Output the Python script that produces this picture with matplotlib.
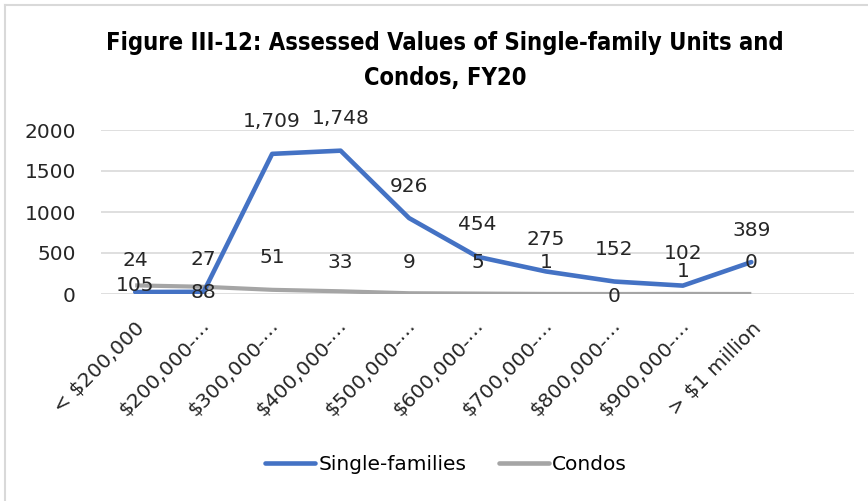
import matplotlib.pyplot as plt
from matplotlib.lines import Line2D

categories = ['< $200,000', '$200,000-⋯', '$300,000-⋯', '$400,000-⋯', '$500,000-⋯',
              '$600,000-⋯', '$700,000-⋯', '$800,000-⋯', '$900,000-⋯', '> $1 million']
single = [24, 27, 1709, 1748, 926, 454, 275, 152, 102, 389]
condos = [105, 88, 51, 33, 9, 5, 1, 0, 1, 0]

# label offsets in pixels (Excel put the condo labels in odd spots)
single_off = [32] * 10
condo_off = [0, -6, 32, 29, 31, 31, 31, -2, 22, 31]

num_font = ['DejaVu Sans']
fs = 14.5

fig = plt.figure(figsize=(8.68, 5.01), dpi=100)
ax = fig.add_axes([101 / 868, 1 - 294 / 501, 753 / 868, 164 / 501])

x = list(range(len(categories)))
ax.plot(x, condos, color='#A5A5A5', lw=3.0, solid_capstyle='butt', zorder=3)
ax.plot(x, single, color='#4472C4', lw=3.3, solid_capstyle='round',
        solid_joinstyle='round', zorder=4)

for i in x:
    ax.annotate(f'{single[i]:,}', (i, single[i]), xytext=(0, single_off[i]),
                textcoords='offset pixels', ha='center', va='center',
                fontsize=fs, family=num_font, color='#262626', zorder=5)
    ax.annotate(f'{condos[i]:,}', (i, condos[i]), xytext=(0, condo_off[i]),
                textcoords='offset pixels', ha='center', va='center',
                fontsize=fs, family=num_font, color='#262626', zorder=5)

ax.set_xlim(-0.5, 10.5)
ax.set_ylim(0, 2000)
ax.set_yticks([0, 500, 1000, 1500, 2000])
ax.set_xticks(x)
ax.set_xticklabels(categories, rotation=45, ha='right', rotation_mode='anchor',
                   fontsize=fs, family=num_font, color='#262626')
for lbl in ax.get_yticklabels():
    lbl.set_family(num_font)
    lbl.set_fontsize(fs)
    lbl.set_color('#262626')
ax.tick_params(axis='both', length=0)
ax.tick_params(axis='y', pad=18)
ax.tick_params(axis='x', pad=18)
ax.grid(axis='y', color='#D9D9D9', lw=1.2)
ax.set_axisbelow(True)
for s in ax.spines.values():
    s.set_visible(False)

fig.text(445 / 868, 1 - 43 / 501, 'Figure III-12: Assessed Values of Single-family Units and',
         ha='center', va='center', fontsize=17, weight='bold', family='DejaVu Sans',
         stretch='condensed', color='#000000')
fig.text(445 / 868, 1 - 78 / 501, 'Condos, FY20',
         ha='center', va='center', fontsize=17, weight='bold', family='DejaVu Sans',
         stretch='condensed', color='#000000')

handles = [Line2D([], [], color='#4472C4', lw=3.3, solid_capstyle='round'),
           Line2D([], [], color='#A5A5A5', lw=3.3, solid_capstyle='round')]
fig.legend(handles, ['Single-families', 'Condos'], loc='center',
           bbox_to_anchor=(446 / 868, 1 - 465 / 501), ncol=2, frameon=False,
           handlelength=2.5, handletextpad=0.15, columnspacing=1.6,
           prop={'family': num_font, 'size': fs})

# light frame on top and left edges
fig.add_artist(Line2D([5 / 868, 5 / 868], [0, 1 - 5 / 501], color='#D9D9D9', lw=1.5))
fig.add_artist(Line2D([5 / 868, 1], [1 - 5 / 501, 1 - 5 / 501], color='#D9D9D9', lw=1.5))

fig.savefig('out.png', dpi=100)
